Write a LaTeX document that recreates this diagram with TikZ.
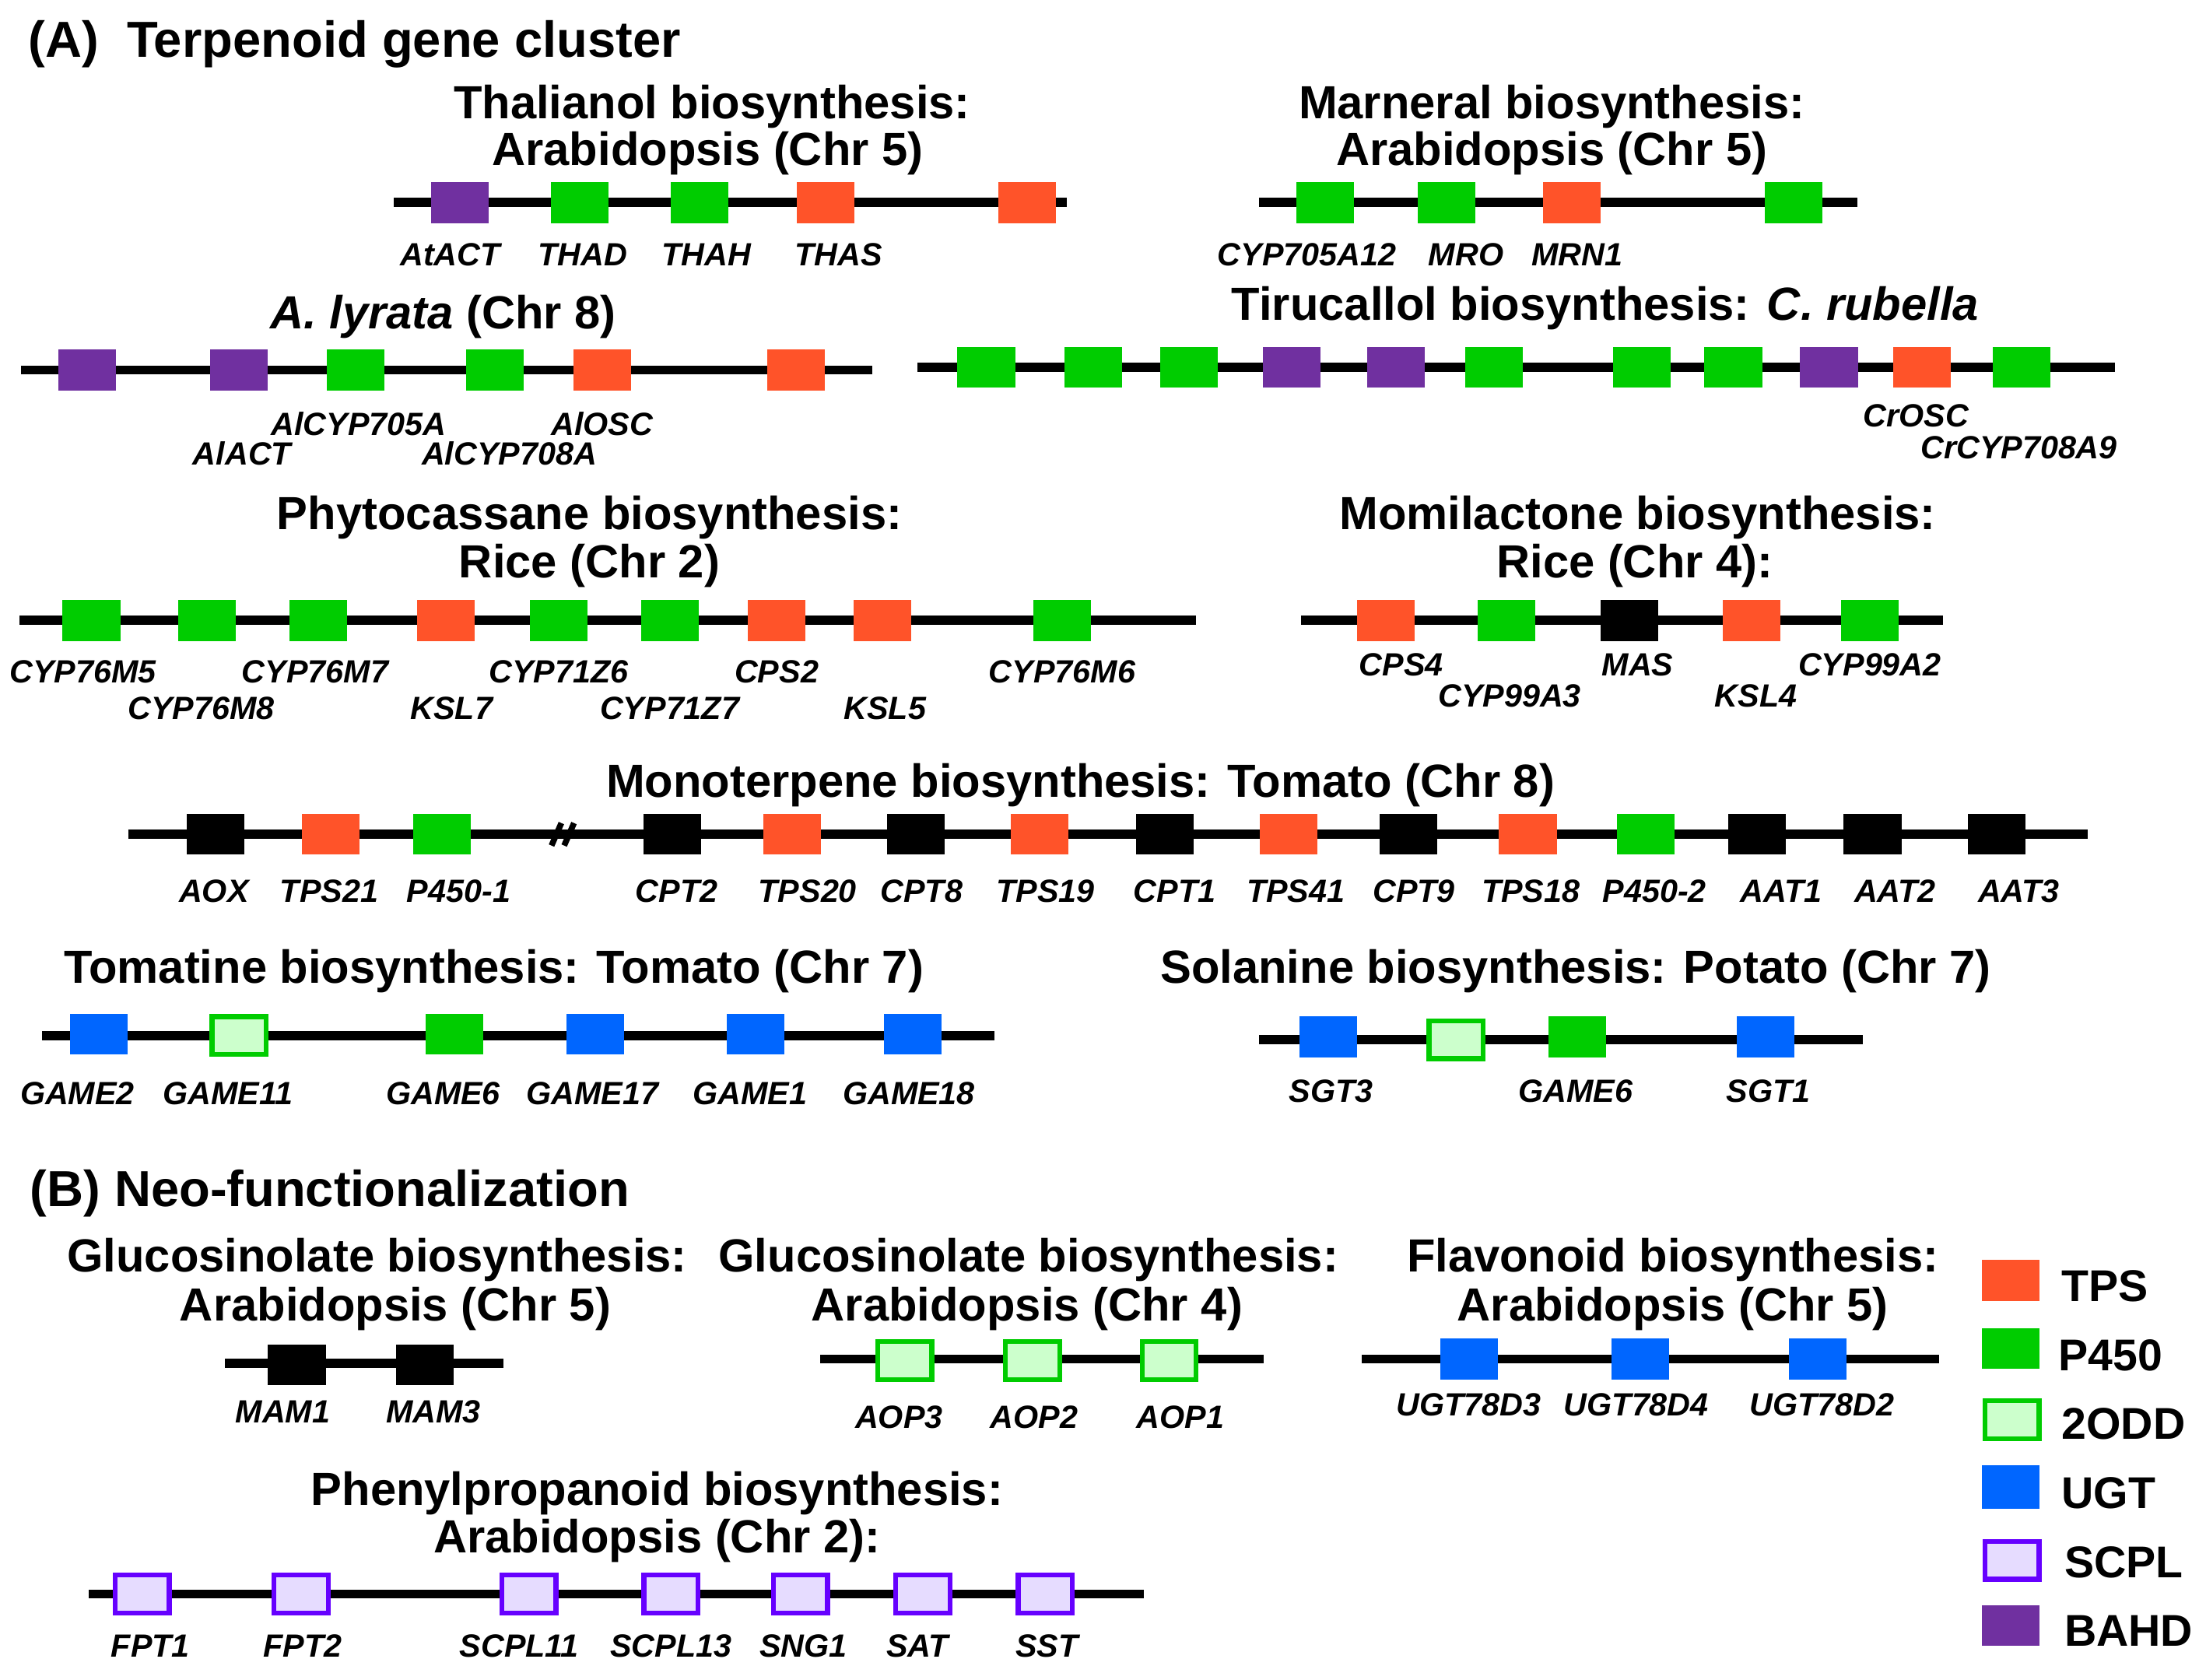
\documentclass[tikz,border=0pt]{standalone}
\usepackage{fontspec}
\setmainfont{Liberation Sans}
\definecolor{tpsc}{HTML}{FF5329}
\definecolor{pfc}{HTML}{00CC00}
\definecolor{oddc}{HTML}{CCFFCC}
\definecolor{ugtc}{HTML}{0066FF}
\definecolor{scplc}{HTML}{E6DCFF}
\definecolor{scpld}{HTML}{6600FF}
\definecolor{bahdc}{HTML}{7030A0}
\tikzset{
  chrom/.style={line width=3.7pt},
  gene/.style={minimum width=0.82cm, minimum height=0.58cm, inner sep=0pt},
  oddbox/.style={gene, fill=oddc, draw=pfc, line width=2pt, minimum width=0.77cm, minimum height=0.54cm},
  scplbox/.style={gene, fill=scplc, draw=scpld, line width=2pt, minimum width=0.77cm, minimum height=0.54cm},
  lbl/.style={font=\fontsize{13}{13}\selectfont\bfseries\itshape, anchor=base, inner sep=0pt},
  sub/.style={font=\fontsize{18.8}{18.8}\selectfont\bfseries, anchor=base, inner sep=0pt},
  head/.style={font=\fontsize{20.5}{20.5}\selectfont\bfseries, anchor=base west, inner sep=0pt},
  legtext/.style={font=\fontsize{18}{18}\selectfont\bfseries, anchor=base west, inner sep=0pt}
}
\begin{document}
\begin{tikzpicture}[x=0.02cm, y=-0.02cm]
  \useasboundingbox (0,0) rectangle (1568,1194);
  %(A) terpenoid clusters
  \node[head] (hA) at (20,40.7) {(A)\hspace{0.55em}Terpenoid gene cluster};

  % thalianol
  \node[sub] (thT) at (506,84.4) {Thalianol biosynthesis:};
  \node[sub] (thS) at (503,117.4) {Arabidopsis (Chr 5)};
  \coordinate (thL) at (280,144); \coordinate (thR) at (758,144);
  \draw[chrom] (thL) -- (thR);
  \foreach \x/\c [count=\i] in {327/bahdc,412/pfc,497/pfc,587/tpsc,730/tpsc}
    \node[gene, fill=\c] (th\i) at (\x,144) {};
  \foreach \x/\t [count=\i] in {320/AtACT,414/THAD,502/THAH,596/THAS}
    \node[lbl] (thl\i) at (\x,188.7) {\t};

  % marneral
  \node[sub] (maT) at (1103,84.4) {Marneral biosynthesis:};
  \node[sub] (maS) at (1103,117.4) {Arabidopsis (Chr 5)};
  \coordinate (maL) at (895,144); \coordinate (maR) at (1320,144);
  \draw[chrom] (maL) -- (maR);
  \foreach \x/\c [count=\i] in {942/pfc,1028/pfc,1117/tpsc,1275/pfc}
    \node[gene, fill=\c] (ma\i) at (\x,144) {};
  \foreach \x/\t [count=\i] in {929/CYP705A12,1042/MRO,1121/MRN1}
    \node[lbl] (mal\i) at (\x,188.7) {\t};

  % lyrata
  \node[sub] (lyT) at (315,233.4) {\textit{A. lyrata} (Chr 8)};
  \coordinate (lyL) at (15,263); \coordinate (lyR) at (620,263);
  \draw[chrom] (lyL) -- (lyR);
  \foreach \x/\c [count=\i] in {62/bahdc,170/bahdc,253/pfc,352/pfc,428/tpsc,566/tpsc}
    \node[gene, fill=\c] (ly\i) at (\x,263) {};
  \node[lbl] (lyl1) at (255,309.2) {AlCYP705A};
  \node[lbl] (lyl2) at (428,309.2) {AlOSC};
  \node[lbl] (lyl3) at (172,330.2) {AlACT};
  \node[lbl] (lyl4) at (362,330.2) {AlCYP708A};

  % tirucallol
  \node[sub] (tiT) at (1141,227.4) {Tirucallol biosynthesis: \textit{C. rubella}};
  \coordinate (tiL) at (652,261); \coordinate (tiR) at (1503,261);
  \draw[chrom] (tiL) -- (tiR);
  \foreach \x/\c [count=\i] in {701/pfc,777/pfc,845/pfc,918/bahdc,992/bahdc,1062/pfc,1167/pfc,1232/pfc,1300/bahdc,1366/tpsc,1437/pfc}
    \node[gene, fill=\c] (ti\i) at (\x,261) {};
  \node[lbl] (til1) at (1362,303.2) {CrOSC};
  \node[lbl] (til2) at (1435,326.2) {CrCYP708A9};

  % phytocassane
  \node[sub] (phT) at (419,376.4) {Phytocassane biosynthesis:};
  \node[sub] (phS) at (419,410.4) {Rice (Chr 2)};
  \coordinate (phL) at (14,441); \coordinate (phR) at (850,441);
  \draw[chrom] (phL) -- (phR);
  \foreach \x/\c [count=\i] in {65/pfc,147/pfc,226/pfc,317/tpsc,397/pfc,476/pfc,552/tpsc,627/tpsc,755/pfc}
    \node[gene, fill=\c] (ph\i) at (\x,441) {};
  \foreach \x/\t [count=\i] in {59/CYP76M5,224/CYP76M7,397/CYP71Z6,552/CPS2,755/CYP76M6}
    \node[lbl] (phl\i) at (\x,485.2) {\t};
  \foreach \x/\t [count=\i] in {143/CYP76M8,321/KSL7,476/CYP71Z7,629/KSL5}
    \node[lbl] (phm\i) at (\x,511.2) {\t};

  % momilactone
  \node[sub] (moT) at (1164,376.4) {Momilactone biosynthesis:};
  \node[sub] (moS) at (1162,410.4) {Rice (Chr 4):};
  \coordinate (moL) at (925,441); \coordinate (moR) at (1381,441);
  \draw[chrom] (moL) -- (moR);
  \foreach \x/\c [count=\i] in {985/tpsc,1071/pfc,1158/black,1245/tpsc,1329/pfc}
    \node[gene, fill=\c] (mo\i) at (\x,441) {};
  \foreach \x/\t [count=\i] in {996/CPS4,1164/MAS,1329/CYP99A2}
    \node[lbl] (mol\i) at (\x,480.2) {\t};
  \foreach \x/\t [count=\i] in {1073/CYP99A3,1248/KSL4}
    \node[lbl] (mom\i) at (\x,502.2) {\t};

  % monoterpene
  \node[sub] (mtT) at (768,566.4) {Monoterpene biosynthesis: Tomato (Chr 8)};
  \coordinate (mtL) at (91,593); \coordinate (mtR) at (1484,593);
  \draw[chrom] (mtL) -- (mtR);
  \draw[line width=2.4pt] (392,601) -- (399,585) (401,601) -- (408,585);
  \foreach \x/\c [count=\i] in {153/black,235/tpsc,314/pfc,478/black,563/tpsc,651/black,739/tpsc,828/black,916/tpsc,1001/black,1086/tpsc,1170/pfc,1249/black,1331/black,1419/black}
    \node[gene, fill=\c] (mt\i) at (\x,593) {};
  \foreach \x/\t [count=\i] in {152/AOX,234/TPS21,326/P450-1,481/CPT2,574/TPS20,655/CPT8,743/TPS19,835/CPT1,921/TPS41,1005/CPT9,1088/TPS18,1176/P450-2,1266/AAT1,1347/AAT2,1435/AAT3}
    \node[lbl] (mtl\i) at (\x,641.2) {\t};

  % tomatine
  \node[sub] (toT) at (351,698.7) {Tomatine biosynthesis: Tomato (Chr 7)};
  \coordinate (toL) at (30,736); \coordinate (toR) at (707,736);
  \draw[chrom] (toL) -- (toR);
  \foreach \x/\c [count=\i] in {70/ugtc,323/pfc,423/ugtc,537/ugtc,649/ugtc}
    \node[gene, fill=\c] (to\i) at (\x,735) {};
  \node[oddbox] (toO) at (170,736) {};
  \foreach \x/\t [count=\i] in {55/GAME2,162/GAME11,315/GAME6,421/GAME17,533/GAME1,646/GAME18}
    \node[lbl] (tol\i) at (\x,785.2) {\t};

  % solanine
  \node[sub] (soT) at (1120,698.7) {Solanine biosynthesis: Potato (Chr 7)};
  \coordinate (soL) at (895,739); \coordinate (soR) at (1324,739);
  \draw[chrom] (soL) -- (soR);
  \foreach \x/\c [count=\i] in {944/ugtc,1121/pfc,1255/ugtc}
    \node[gene, fill=\c] (so\i) at (\x,737) {};
  \node[oddbox] (soO) at (1035,739) {};
  \foreach \x/\t [count=\i] in {946/SGT3,1120/GAME6,1257/SGT1}
    \node[lbl] (sol\i) at (\x,783.2) {\t};

  %(B) neo-functionalization
  \node[head] (hB) at (21,857.3) {(B) Neo-functionalization};

  % glucosinolate chr 5
  \node[sub] (gaT) at (268,904) {Glucosinolate biosynthesis:};
  \node[sub] (gaS) at (281,938.7) {Arabidopsis (Chr 5)};
  \coordinate (gaL) at (160,969); \coordinate (gaR) at (358,969);
  \draw[chrom] (gaL) -- (gaR);
  \foreach \x [count=\i] in {211,302}
    \node[gene, fill=black] (ga\i) at (\x,970) {};
  \foreach \x/\t [count=\i] in {201/MAM1,308/MAM3}
    \node[lbl] (gal\i) at (\x,1011.2) {\t};

  % glucosinolate chr 4
  \node[sub] (gbT) at (731,904) {Glucosinolate biosynthesis:};
  \node[sub] (gbS) at (730,938.7) {Arabidopsis (Chr 4)};
  \coordinate (gbL) at (583,966); \coordinate (gbR) at (898,966);
  \draw[chrom] (gbL) -- (gbR);
  \foreach \x [count=\i] in {643,734,831}
    \node[oddbox] (gb\i) at (\x,967) {};
  \foreach \x/\t [count=\i] in {639/AOP3,735/AOP2,839/AOP1}
    \node[lbl] (gbl\i) at (\x,1015.2) {\t};

  % flavonoid
  \node[sub] (flT) at (1189,904) {Flavonoid biosynthesis:};
  \node[sub] (flS) at (1189,938.7) {Arabidopsis (Chr 5)};
  \coordinate (flL) at (968,966); \coordinate (flR) at (1378,966);
  \draw[chrom] (flL) -- (flR);
  \foreach \x [count=\i] in {1044,1166,1292}
    \node[gene, fill=ugtc] (fl\i) at (\x,966) {};
  \foreach \x/\t [count=\i] in {1044/UGT78D3,1163/UGT78D4,1295/UGT78D2}
    \node[lbl] (fll\i) at (\x,1006.2) {\t};

  % phenylpropanoid
  \node[sub] (ppT) at (467,1070) {Phenylpropanoid biosynthesis:};
  \node[sub] (ppS) at (467,1103.4) {Arabidopsis (Chr 2):};
  \coordinate (ppL) at (63,1133); \coordinate (ppR) at (813,1133);
  \draw[chrom] (ppL) -- (ppR);
  \foreach \x [count=\i] in {101,214,376,477,569,656,743}
    \node[scplbox] (pp\i) at (\x,1133) {};
  \foreach \x/\t [count=\i] in {107/FPT1,215/FPT2,369/SCPL11,477/SCPL13,571/SNG1,652/SAT,744/SST}
    \node[lbl] (ppl\i) at (\x,1177.7) {\t};

  % legend
  \node[gene, fill=tpsc] (kTPS) at (1429,910) {};
  \node[gene, fill=pfc] (kP450) at (1429,958.5) {};
  \node[oddbox] (kODD) at (1430,1009) {};
  \node[gene, fill=ugtc, minimum height=0.62cm] (kUGT) at (1429,1057) {};
  \node[scplbox] (kSCPL) at (1430,1109) {};
  \node[gene, fill=bahdc] (kBAHD) at (1429,1155.5) {};
  \node[legtext] (tTPS) at (1465,925) {TPS};
  \node[legtext] (tP450) at (1463,974.1) {P450};
  \node[legtext] (tODD) at (1465,1023) {2ODD};
  \node[legtext] (tUGT) at (1465,1072.4) {UGT};
  \node[legtext] (tSCPL) at (1467,1121.4) {SCPL};
  \node[legtext] (tBAHD) at (1467,1170.2) {BAHD};
\end{tikzpicture}
\end{document}
